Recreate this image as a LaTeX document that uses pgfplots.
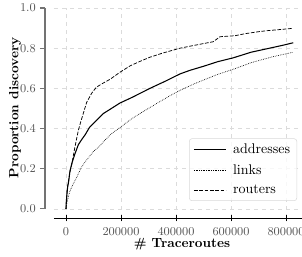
\documentclass[border=0pt]{standalone}
\usepackage{pgfplots}
\pgfplotsset{compat=1.18}
\definecolor{tickgray}{rgb}{0.33,0.33,0.33}
\definecolor{spinegray}{rgb}{0.45,0.45,0.45}
\definecolor{gridgray}{rgb}{0.86,0.86,0.86}
\begin{document}
\begin{tikzpicture}
\useasboundingbox (-40.5pt,-28.5pt) rectangle (186pt,163.5pt);
\begin{axis}[
  at={(0,0)}, anchor=south west,
  scale only axis, width=186pt, height=157.5pt,
  xmin=-43600, xmax=858000, ymin=-0.045, ymax=1.0,
  clip=false,
  axis x line*=bottom, axis y line*=left,
  y axis line style={draw=none},
  x axis line style={line width=0.6pt},
  xtick={0,200000,400000,600000,800000},
  ytick={0,0.2,0.4,0.6,0.8,1.0},
  scaled x ticks=false,
  xticklabel={\pgfmathprintnumber[fixed,1000 sep={}]{\tick}},
  yticklabel={\pgfmathprintnumber[fixed,fixed zerofill,precision=1]{\tick}},
  tick align=center, major tick length=5pt,
  ytick style={draw=none},
  xtick style={black, line width=0.6pt},
  tick label style={font=\fontsize{8.8}{10}\selectfont, text=tickgray},
  yticklabel style={xshift=-7.6pt},
  xticklabel style={yshift=-1pt},
  grid=major,
  major grid style={gridgray, dashed, line width=0.5pt},
  xlabel={\textbf{\# Traceroutes}},
  ylabel={\textbf{Proportion discovery}},
  label style={font=\fontsize{10.5}{12}\selectfont},
  every axis x label/.style={at={(axis description cs:0.516,0)}, anchor=center, yshift=-19.5pt},
  every axis y label/.style={at={(axis description cs:0,0.524)}, xshift=-29.25pt, anchor=center, rotate=90},
  legend style={at={(0.98,0.081)}, anchor=south east, font=\fontsize{10.5}{12}\selectfont,
    draw=gray!30, rounded corners=2pt, fill=white, fill opacity=0.8, text opacity=1,
    row sep=2.5pt, column sep=3pt, inner xsep=3pt, inner ysep=2pt},
  legend cell align=left,
  legend image code/.code={\draw[#1] (0pt,0pt) -- (24pt,0pt);},
]
\addplot[black, line width=0.8pt] coordinates {
(0,0) (1000,0.03) (2500,0.06) (6000,0.11) (10000,0.14) (14500,0.19) (22000,0.23) (32700,0.275) (45000,0.32) (57000,0.345) (70000,0.37) (85000,0.405) (110000,0.44) (136000,0.475) (165000,0.5) (196000,0.527) (240000,0.555) (305000,0.60) (360000,0.635) (414500,0.672) (451000,0.69) (500000,0.71) (552000,0.733) (608000,0.752) (673000,0.78) (740000,0.80) (790000,0.815) (826000,0.827)
};
\addlegendentry{addresses}
\addplot[black, line width=0.5pt, dash pattern=on 0.5pt off 0.8pt] coordinates {
(0,0) (2000,0.02) (5000,0.04) (8500,0.06) (14500,0.09) (26500,0.125) (40000,0.16) (55000,0.205) (70000,0.235) (99000,0.285) (124000,0.315) (136000,0.335) (166000,0.375) (196000,0.405) (240000,0.45) (281000,0.485) (330000,0.525) (380000,0.565) (414500,0.59) (470000,0.625) (552000,0.67) (608000,0.695) (673000,0.728) (750000,0.757) (826000,0.78)
};
\addlegendentry{links}
\addplot[black, line width=0.55pt, dash pattern=on 2.8pt off 1.2pt] coordinates {
(0,0) (1500,0.04) (4000,0.09) (8000,0.13) (14000,0.18) (20700,0.22) (32700,0.31) (44700,0.39) (55000,0.44) (63000,0.476) (75000,0.53) (93500,0.576) (110000,0.605) (123600,0.617) (140000,0.63) (160000,0.645) (196000,0.68) (233000,0.712) (270000,0.735) (305000,0.755) (350000,0.775) (414500,0.80) (451000,0.81) (500000,0.823) (535000,0.832) (548000,0.845) (560000,0.857) (614000,0.862) (650000,0.872) (700000,0.882) (730000,0.887) (780000,0.893) (826000,0.899)
};
\addlegendentry{routers}
\draw[spinegray, line width=1.3pt] ([xshift=-6.75pt]axis cs:-43600,0) -- ([xshift=-6.75pt]axis cs:-43600,1);
\draw[spinegray, line width=0.8pt] ([xshift=-10.5pt]axis cs:-43600,0) -- ([xshift=-6.75pt]axis cs:-43600,0);
\draw[spinegray, line width=0.8pt] ([xshift=-10.5pt]axis cs:-43600,0.2) -- ([xshift=-6.75pt]axis cs:-43600,0.2);
\draw[spinegray, line width=0.8pt] ([xshift=-10.5pt]axis cs:-43600,0.4) -- ([xshift=-6.75pt]axis cs:-43600,0.4);
\draw[spinegray, line width=0.8pt] ([xshift=-10.5pt]axis cs:-43600,0.6) -- ([xshift=-6.75pt]axis cs:-43600,0.6);
\draw[spinegray, line width=0.8pt] ([xshift=-10.5pt]axis cs:-43600,0.8) -- ([xshift=-6.75pt]axis cs:-43600,0.8);
\draw[spinegray, line width=0.8pt] ([xshift=-10.5pt]axis cs:-43600,1) -- ([xshift=-6.75pt]axis cs:-43600,1);
\end{axis}
\end{tikzpicture}
\end{document}
